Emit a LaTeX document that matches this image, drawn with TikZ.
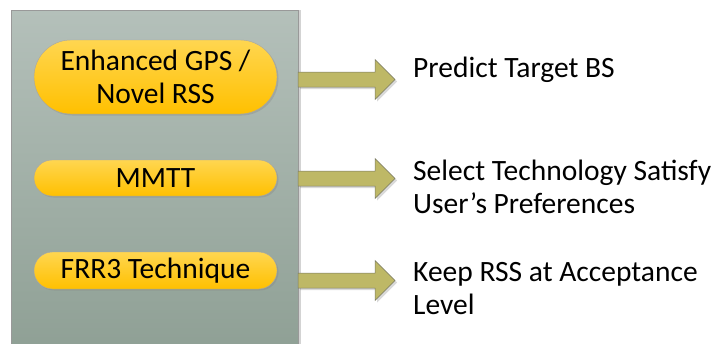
\documentclass[tikz,border=0pt]{standalone}
\usepackage{fontspec}
\setmainfont{Carlito}
\usetikzlibrary{shapes.misc,shadows}
\definecolor{pnt}{RGB}{180,192,186}
\definecolor{pnb}{RGB}{142,159,148}
\definecolor{ylt}{RGB}{255,214,80}
\definecolor{ylb}{RGB}{255,192,0}
\definecolor{olv}{RGB}{190,184,102}
\definecolor{olx}{RGB}{120,120,100}
\tikzset{
    panel/.style={draw=gray!80,top color=pnt,bottom color=pnb,
        drop shadow={shadow xshift=3pt,shadow yshift=0pt,opacity=0.35}},
    pill/.style={rounded rectangle,draw=gray!70,top color=ylt,bottom color=ylb,
        minimum width=243pt,inner sep=0pt,align=center,font=\fontsize{29.5}{33}\selectfont,
        drop shadow={shadow xshift=1.5pt,shadow yshift=-1.5pt,opacity=0.3}},
    goal/.style={anchor=west,align=left,inner sep=0pt,font=\fontsize{29.5}{33}\selectfont},
    barrow/.style={draw=olx,fill=olv,line width=0.5pt,
        drop shadow={shadow xshift=2pt,shadow yshift=-2pt,opacity=0.3}}
}
\begin{document}
\begin{tikzpicture}[x=1pt,y=-1pt]
    \useasboundingbox (0,0) rectangle (717,343);
    \path[panel] (11,10) rectangle (298,360);
    \node [pill,minimum height=74pt] (gps) at (155.5,77) {Enhanced GPS /\\Novel RSS};
    \node [pill,minimum height=36pt] (mmtt) at (155.5,178) {MMTT};
    \node [pill,minimum height=37pt] (frr) at (155.5,270.5) {FRR3 Technique};
    \foreach \n/\y in {a/79.5,b/178.5,c/280.5} {
        \path[barrow] (298,\y-7.5) -- (375,\y-7.5) -- (375,\y-20)
            -- (395,\y) -- (375,\y+20) -- (375,\y+7.5) -- (298,\y+7.5) -- cycle;
    }
    \node [goal] (pred) at (413,70) {Predict Target BS};
    \node [goal] (sel) at (413,186.5) {Select Technology Satisfy\\User’s Preferences};
    \node [goal] (keep) at (413,289) {Keep RSS at Acceptance\\Level};
\end{tikzpicture}
\end{document}
